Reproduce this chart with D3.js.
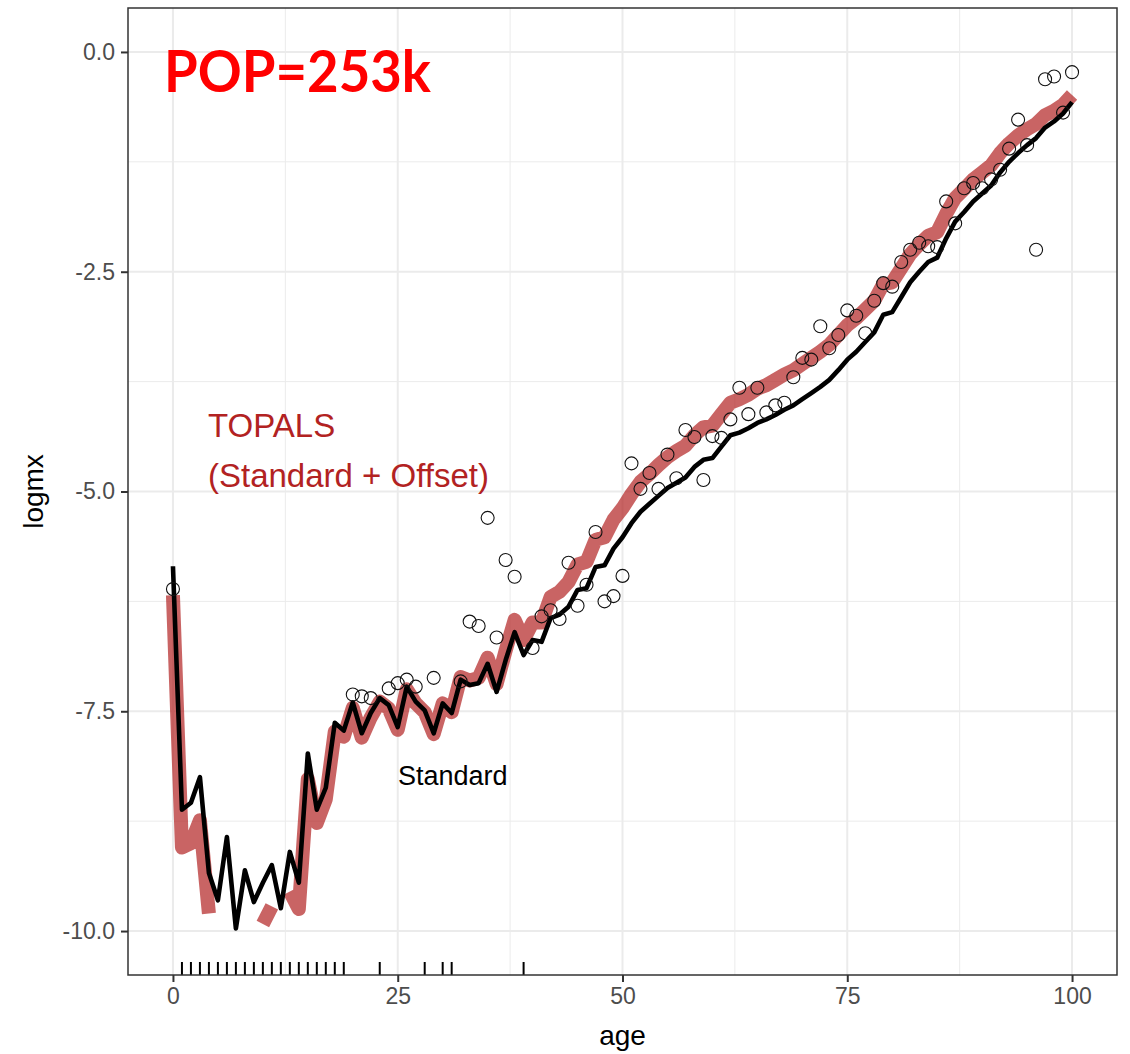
<!DOCTYPE html>
<html>
<head>
<meta charset="utf-8">
<script src="https://cdn.jsdelivr.net/npm/d3@7"></script>
<style>
  body { margin: 0; background: #fff; }
  svg { display: block; }
</style>
</head>
<body>
<div id="chart"></div>
<script>
// ages 0..100 (single years)
var ages = d3.range(0, 101);

// standard schedule (black line), log mx by age 0..100
var standard = [-5.85, -8.62, -8.54, -8.25, -9.34, -9.65, -8.93, -9.97, -9.31, -9.67,
  -9.45, -9.25, -9.74, -9.10, -9.45, -7.98, -8.62, -8.37, -7.63, -7.72,
  -7.40, -7.75, -7.52, -7.35, -7.43, -7.68, -7.22, -7.39, -7.49, -7.75,
  -7.41, -7.52, -7.14, -7.20, -7.18, -6.96, -7.28, -6.92, -6.60, -6.86,
  -6.69, -6.71, -6.44, -6.40, -6.31, -6.12, -6.10, -5.86, -5.84, -5.65,
  -5.52, -5.36, -5.23, -5.14, -5.05, -4.96, -4.90, -4.84, -4.72, -4.64,
  -4.62, -4.49, -4.36, -4.33, -4.28, -4.22, -4.18, -4.13, -4.07, -4.02,
  -3.95, -3.88, -3.81, -3.73, -3.62, -3.50, -3.41, -3.30, -3.19, -2.99,
  -2.96, -2.79, -2.62, -2.50, -2.39, -2.34, -2.12, -1.93, -1.82, -1.70,
  -1.61, -1.52, -1.37, -1.25, -1.15, -1.06, -0.98, -0.86, -0.79, -0.70,
  -0.57];

// TOPALS fit (red line); null = below the -10 limit, not drawn
var topals = [-6.18, -9.05, -9.00, -8.74, -9.80, null, null, null, null, null,
  -9.92, -9.72, null, -9.55, -9.75, -8.27, -8.77, -8.50, -7.73, -7.79,
  -7.46, -7.80, -7.57, -7.39, -7.47, -7.71, -7.25, -7.41, -7.51, -7.76,
  -7.41, -7.51, -7.11, -7.15, -7.12, -6.89, -7.19, -6.81, -6.46, -6.69,
  -6.49, -6.49, -6.20, -6.14, -6.03, -5.83, -5.80, -5.55, -5.52, -5.32,
  -5.19, -5.03, -4.89, -4.80, -4.70, -4.61, -4.54, -4.48, -4.36, -4.27,
  -4.25, -4.12, -3.99, -3.95, -3.90, -3.83, -3.79, -3.73, -3.67, -3.62,
  -3.55, -3.48, -3.41, -3.33, -3.22, -3.11, -3.03, -2.93, -2.83, -2.64,
  -2.62, -2.46, -2.30, -2.19, -2.09, -2.05, -1.84, -1.66, -1.56, -1.45,
  -1.37, -1.29, -1.15, -1.04, -0.95, -0.88, -0.82, -0.72, -0.67, -0.60,
  -0.49];

// observed log rates (circles)
var obsAge = [0, 20, 21, 22, 24, 25, 26, 27, 29, 32, 33, 34, 35, 36, 37, 38,
  40, 41, 42, 43, 44, 45, 46, 47, 48, 49, 50, 51, 52, 53, 54, 55, 56, 57, 58, 59,
  60, 61, 62, 63, 64, 65, 66, 67, 68, 69, 70, 71, 72, 73, 74, 75, 76, 77, 78, 79,
  80, 81, 82, 83, 84, 85, 86, 87, 88, 89, 90, 91, 92, 93, 94, 95, 96, 97, 98, 99, 100];
var obsLogmx = [-6.11, -7.31, -7.33, -7.35, -7.24, -7.18, -7.14, -7.22, -7.12, -7.16, -6.48, -6.53, -5.30, -6.66, -5.78, -5.97,
  -6.78, -6.42, -6.35, -6.45, -5.81, -6.30, -6.06, -5.46, -6.25, -6.19, -5.96, -4.68, -4.97, -4.79, -4.97, -4.58, -4.85, -4.30, -4.38, -4.87,
  -4.37, -4.39, -4.18, -3.82, -4.12, -3.82, -4.10, -4.02, -3.99, -3.70, -3.48, -3.50, -3.12, -3.37, -3.22, -2.94, -3.00, -3.20, -2.83, -2.63,
  -2.67, -2.39, -2.25, -2.17, -2.21, -2.22, -1.70, -1.95, -1.55, -1.49, -1.55, -1.45, -1.34, -1.10, -0.77, -1.06, -2.25, -0.31, -0.28, -0.69, -0.23];

// ages with zero deaths (rug marks)
var zeroAges = [1, 2, 3, 4, 5, 6, 7, 8, 9, 10, 11, 12, 13, 14, 15, 16, 17, 18, 19, 23, 28, 30, 31, 39];

var xTicks = [0, 25, 50, 75, 100];
var yTicks = [0, -2.5, -5, -7.5, -10];

// size of the picture and panel
const width = 1130;
const height = 1054;
var margin = {top: 8, right: 13, bottom: 79, left: 128};
var fontFamily = "Liberation Sans, Arial, sans-serif";

var svg = d3.select("#chart")
  .append("svg")
  .attr("width", width)
  .attr("height", height)
  .style("background-color", "#fff");

var x = d3.scaleLinear()
  .domain([-5, 105])
  .range([margin.left, width - margin.right]);

var y = d3.scaleLinear()
  .domain([-10.5, 0.5])
  .range([height - margin.bottom, margin.top]);

var x0 = x.range()[0], x1 = x.range()[1];
var y0 = y.range()[1], y1 = y.range()[0];

// grid lines (minor first, then major)
var minorX = [12.5, 37.5, 62.5, 87.5];
var minorY = [-1.25, -3.75, -6.25, -8.75];
var grid = svg.append("g");
grid.selectAll(".vminor").data(minorX).enter().append("line")
  .attr("x1", d => x(d)).attr("x2", d => x(d))
  .attr("y1", y0).attr("y2", y1)
  .attr("stroke", "#ebebeb").attr("stroke-width", 1);
grid.selectAll(".hminor").data(minorY).enter().append("line")
  .attr("y1", d => y(d)).attr("y2", d => y(d))
  .attr("x1", x0).attr("x2", x1)
  .attr("stroke", "#ebebeb").attr("stroke-width", 1);
grid.selectAll(".vmajor").data(xTicks).enter().append("line")
  .attr("x1", d => x(d)).attr("x2", d => x(d))
  .attr("y1", y0).attr("y2", y1)
  .attr("stroke", "#ebebeb").attr("stroke-width", 2);
grid.selectAll(".hmajor").data(yTicks).enter().append("line")
  .attr("y1", d => y(d)).attr("y2", d => y(d))
  .attr("x1", x0).attr("x2", x1)
  .attr("stroke", "#ebebeb").attr("stroke-width", 2);

// TOPALS fit, thick translucent red
var redLine = d3.line()
  .defined(d => d[1] !== null)
  .x(d => x(d[0]))
  .y(d => y(d[1]));

svg.append("path")
  .datum(ages.map((a, i) => [a, topals[i]]))
  .attr("d", redLine)
  .attr("fill", "none")
  .attr("stroke", "firebrick")
  .attr("stroke-opacity", 0.7)
  .attr("stroke-width", 14)
  .attr("stroke-linejoin", "round")
  .attr("stroke-linecap", "butt");

// standard schedule, black
var blackLine = d3.line()
  .x(d => x(d[0]))
  .y(d => y(d[1]));

svg.append("path")
  .datum(ages.map((a, i) => [a, standard[i]]))
  .attr("d", blackLine)
  .attr("fill", "none")
  .attr("stroke", "#000")
  .attr("stroke-width", 4.6)
  .attr("stroke-linejoin", "round");

// observed points
svg.append("g").selectAll("circle")
  .data(obsAge.map((a, i) => [a, obsLogmx[i]]))
  .enter().append("circle")
  .attr("cx", d => x(d[0]))
  .attr("cy", d => y(d[1]))
  .attr("r", 6.5)
  .attr("fill", "none")
  .attr("stroke", "#111")
  .attr("stroke-width", 1.1);

// rug for zero-death ages
svg.append("g").selectAll("line")
  .data(zeroAges)
  .enter().append("line")
  .attr("x1", d => x(d)).attr("x2", d => x(d))
  .attr("y1", y1).attr("y2", y1 - 13)
  .attr("stroke", "#000")
  .attr("stroke-width", 2);

// panel border
svg.append("rect")
  .attr("x", x0).attr("y", y0)
  .attr("width", x1 - x0).attr("height", y1 - y0)
  .attr("fill", "none")
  .attr("stroke", "#333333")
  .attr("stroke-width", 1.5);

// axes
var xAxis = svg.append("g")
  .attr("transform", "translate(0," + y1 + ")")
  .call(d3.axisBottom(x).tickValues(xTicks).tickSize(7).tickPadding(6).tickFormat(d3.format("d")));
var yAxis = svg.append("g")
  .attr("transform", "translate(" + x0 + ",0)")
  .call(d3.axisLeft(y).tickValues(yTicks).tickSize(7).tickPadding(6).tickFormat(d3.format(".1f")));

[xAxis, yAxis].forEach(function(g) {
  g.select(".domain").remove();
  g.selectAll(".tick line").attr("stroke", "#333333").attr("stroke-width", 2);
  g.selectAll(".tick text")
    .attr("fill", "#4d4d4d")
    .style("font-family", fontFamily)
    .style("font-size", "23px");
});
yAxis.selectAll(".tick text").text(d => d3.format(".1f")(d).replace("\u2212", "-"));

// axis titles
svg.append("text")
  .attr("x", (x0 + x1) / 2)
  .attr("y", 1045)
  .attr("text-anchor", "middle")
  .style("font-family", fontFamily)
  .style("font-size", "28px")
  .text("age");

svg.append("text")
  .attr("transform", "translate(43," + ((y0 + y1) / 2) + ") rotate(-90)")
  .attr("text-anchor", "middle")
  .style("font-family", fontFamily)
  .style("font-size", "28px")
  .text("logmx");

// annotations
svg.append("text")
  .attr("x", x(-1))
  .attr("y", 92)
  .attr("fill", "#ff0000")
  .attr("textLength", 267)
  .attr("lengthAdjust", "spacingAndGlyphs")
  .style("font-family", "Lato, 'Open Sans', sans-serif")
  .style("font-weight", "bold")
  .style("font-size", "58px")
  .text("POP=253k");

svg.append("text")
  .attr("x", 208)
  .attr("y", 437)
  .attr("fill", "firebrick")
  .style("font-family", fontFamily)
  .style("font-size", "33px")
  .text("TOPALS");

svg.append("text")
  .attr("x", 208)
  .attr("y", 487)
  .attr("fill", "firebrick")
  .style("font-family", fontFamily)
  .style("font-size", "33px")
  .text("(Standard + Offset)");

svg.append("text")
  .attr("x", 398)
  .attr("y", 785)
  .attr("fill", "#000")
  .style("font-family", fontFamily)
  .style("font-size", "27px")
  .text("Standard");
</script>
</body>
</html>
